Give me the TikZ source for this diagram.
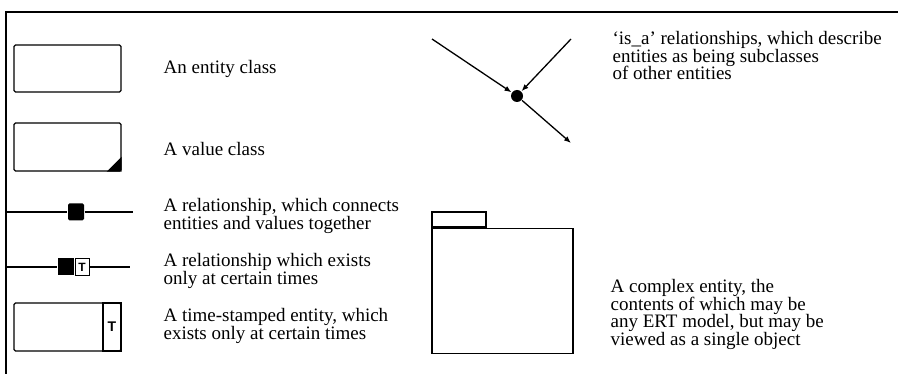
\documentclass[tikz,border=0pt]{standalone}
\usepackage{fontspec}
\setmainfont{Liberation Serif}
\newfontfamily\tfont{Liberation Sans}
\usepackage{tikz}
\usetikzlibrary{positioning, arrows.meta}

\tikzset{
  legtext/.style={anchor=west, align=left, inner sep=0pt, font=\fontsize{19}{17.5}\selectfont},
  entbox/.style={draw, line width=1.3pt, rounded corners=1.5pt, inner sep=0pt},
  relbox/.style={fill=black, rounded corners=1.5pt, inner sep=0pt, minimum width=16pt, minimum height=17pt},
  tbox/.style={draw, line width=1.3pt, inner sep=0pt, font=\tfont\bfseries\fontsize{14}{14}\selectfont},
  isaarrow/.style={line width=1.3pt, -{Latex[length=7pt, width=5.5pt]}},
}

\begin{document}
\begin{tikzpicture}[x=1pt, y=-1pt, line width=1.2pt]
        \useasboundingbox (0,0) rectangle (898,374);
        % Frame (open at right and bottom)
        \draw (6,374) -- (6,12) -- (898,12);
        % Entity class
        \node[entbox, minimum width=107pt, minimum height=47pt] (ent) at (67.5,68.5) {};
        \node[legtext] (entlab) at (163,69) {An entity class};
        % Value class, filled corner
        \node[entbox, minimum width=107pt, minimum height=48pt] (val) at (67.5,147) {};
        \fill (val.south east) -- ++(-15,0) -- ++(15,-15) -- cycle;
        \node[legtext] (vallab) at (163,149) {A value class};
        % Relationship
        \coordinate (relin) at (6,212);
        \coordinate (relout) at (133,212);
        \node[relbox] (rel) at (76,212) {};
        \draw (relin) -- (rel) -- (relout);
        \node[legtext] (rellab) at (163,216) {A relationship, which connects\\entities and values together};
        % Time-stamped relationship
        \coordinate (trelin) at (6,267);
        \coordinate (trelout) at (130,267);
        \node[relbox, rounded corners=0pt] (trel) at (66,267) {};
        \node[tbox, line width=1pt, font=\tfont\bfseries\fontsize{12}{12}\selectfont, minimum width=14pt, minimum height=17pt, right=0pt of trel] (trelT) {T};
        \draw (trelin) -- (trel);
        \draw (trelT) -- (trelout);
        \node[legtext] (trellab) at (163,271) {A relationship which exists\\only at certain times};
        % Time-stamped entity
        \node[entbox, minimum width=107pt, minimum height=48pt] (tent) at (67.5,327) {};
        \node[tbox, minimum width=18pt, minimum height=48pt, anchor=east] (tentT) at (tent.east) {T};
        \node[legtext] (tentlab) at (163,326) {A time-stamped entity, which\\exists only at certain times};
        % is_a relationships
        \node[circle, fill=black, inner sep=0pt, minimum size=12pt] (isa) at (517,96) {};
        \coordinate (isaleft) at (432,39);
        \coordinate (isaright) at (571,39);
        \coordinate (isaout) at (571,143);
        \draw[isaarrow] (isaleft) -- (isa);
        \draw[isaarrow] (isaright) -- (isa);
        \draw[isaarrow] (isa) -- (isaout);
        \node[legtext] (isalab) at (612,56) {`is\_a' relationships, which describe\\entities as being subclasses\\of other entities};
        % Complex entity (folder)
        \node[entbox, rounded corners=0pt, minimum width=54pt, minimum height=15pt] (cplxtab) at (459,219.5) {};
        \node[entbox, rounded corners=0pt, minimum width=141pt, minimum height=125pt, anchor=north west] (cplx) at (cplxtab.south west) {};
        \node[legtext] (cplxlab) at (610,314.5) {A complex entity, the\\contents of which may be\\any ERT model, but may be\\viewed as a single object};
      \end{tikzpicture}
\end{document}
